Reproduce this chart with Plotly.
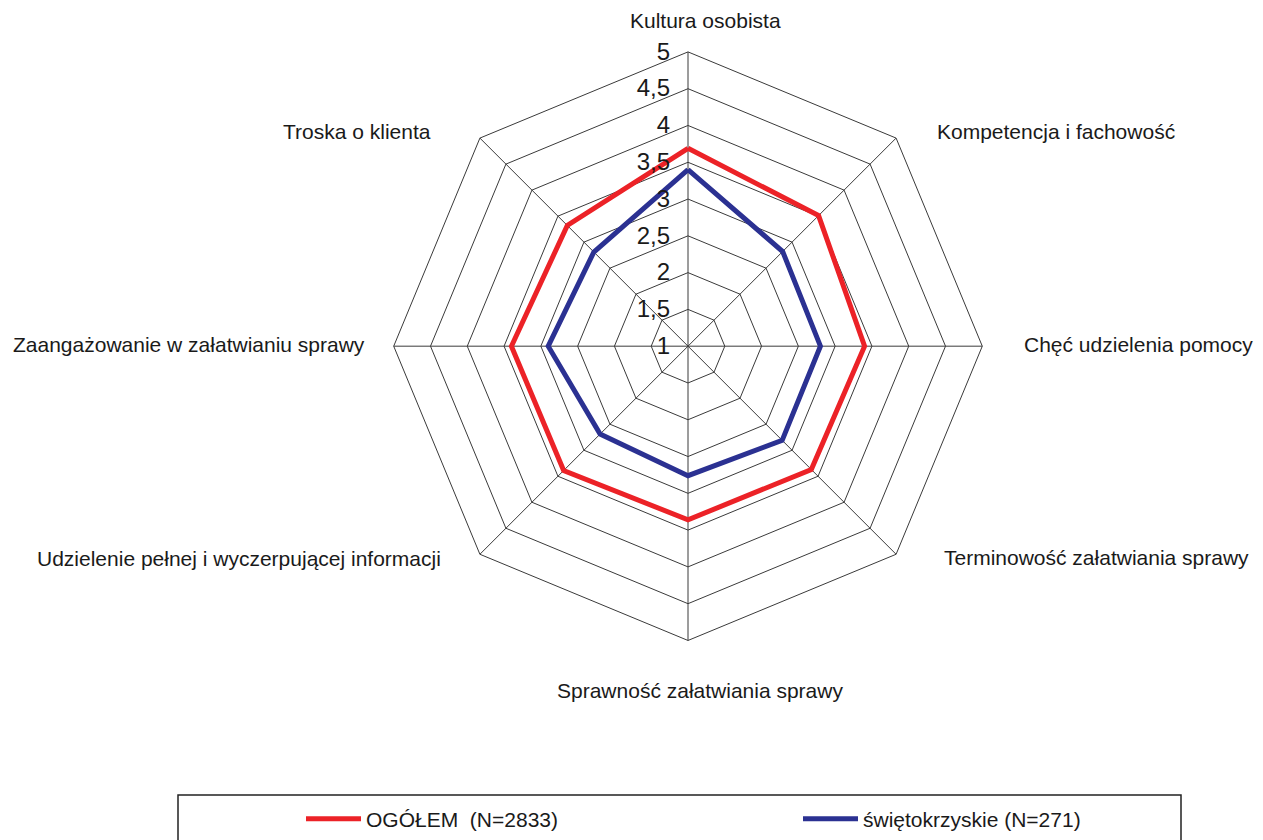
import math
import plotly.graph_objects as go

categories = [
    "Kultura osobista",
    "Kompetencja i fachowość",
    "Chęć udzielenia pomocy",
    "Terminowość załatwiania sprawy",
    "Sprawność załatwiania sprawy",
    "Udzielenie pełnej i wyczerpującej informacji",
    "Zaangażowanie w załatwianiu sprawy",
    "Troska o klienta",
]
ogolem = [3.69, 3.51, 3.40, 3.37, 3.36, 3.39, 3.40, 3.32]
swietokrzyskie = [3.40, 2.82, 2.80, 2.81, 2.76, 2.69, 2.90, 2.81]
series_names = ["OGÓŁEM  (N=2833)", "świętokrzyskie (N=271)"]
series_colors = ["#EC2227", "#2B3192"]
tick_vals = [1, 1.5, 2, 2.5, 3, 3.5, 4, 4.5, 5]
tick_text = ["1", "1,5", "2", "2,5", "3", "3,5", "4", "4,5", "5"]

# the page body adds an 8px margin; the figure is sized to fill the rest
OFF = 8
W, H = 1263 - 2 * OFF, 840 - OFF
cx, cy, R = 688 - OFF, 347 - OFF, 295
font_family = "Liberation Sans, Arial, sans-serif"
txt_color = "#1a1a1a"
grid_color = "#3a3a3a"

# label placement relative to each octagon vertex (pixel offsets, anchor)
label_style = [
    (17, -31, "center"),
    (38, -7, "left"),
    (39, -2, "left"),
    (45, 3, "left"),
    (12, 50, "center"),
    (-36, 4, "right"),
    (-26, -2, "right"),
    (-46, -7, "right"),
]

fig = go.Figure()
legend_ids = ["legend", "legend2"]
for name, vals, col, lg in zip(series_names, [ogolem, swietokrzyskie], series_colors, legend_ids):
    fig.add_trace(go.Scatterpolar(
        r=vals + vals[:1],
        theta=categories + categories[:1],
        mode="lines",
        name=name,
        line=dict(color=col, width=5),
        hoverinfo="skip",
        legend=lg,
    ))

annotations = []
n = len(categories)
for i, (cat, (dx, dy, anchor)) in enumerate(zip(categories, label_style)):
    ang = math.radians(90 - 360 * i / n)
    vx = cx + R * math.cos(ang)
    vy = cy - R * math.sin(ang)
    annotations.append(dict(
        x=(vx + dx) / W, y=1 - (vy + dy) / H,
        xref="paper", yref="paper",
        text=cat, showarrow=False,
        xanchor=anchor, yanchor="middle",
        font=dict(size=21, family=font_family, color=txt_color),
    ))

legend_common = dict(
    orientation="h",
    yanchor="middle",
    y=1 - (821 - OFF) / H,
    bgcolor="rgba(0,0,0,0)",
    itemwidth=55,
    font=dict(size=21, family=font_family, color=txt_color),
)

fig.update_layout(
    width=W, height=H,
    margin=dict(l=0, r=0, t=0, b=0),
    paper_bgcolor="white",
    plot_bgcolor="white",
    font=dict(family=font_family, color=txt_color, size=18),
    polar=dict(
        domain=dict(x=[(cx - R) / W, (cx + R) / W], y=[1 - (cy + R) / H, 1 - (cy - R) / H]),
        gridshape="linear",
        bgcolor="white",
        radialaxis=dict(
            range=[1, 5],
            tickvals=tick_vals,
            ticktext=tick_text,
            angle=90,
            tickangle=90,
            side="counterclockwise",
            showline=False,
            showgrid=True,
            gridcolor=grid_color,
            gridwidth=1,
            ticks="outside",
            ticklen=9,
            tickcolor="rgba(0,0,0,0)",
            tickfont=dict(size=24, family=font_family, color=txt_color),
        ),
        angularaxis=dict(
            direction="clockwise",
            rotation=90,
            showline=True,
            linecolor=grid_color,
            linewidth=1,
            gridcolor=grid_color,
            gridwidth=1,
            ticks="",
            showticklabels=False,
        ),
    ),
    showlegend=True,
    legend=dict(x=(301 - OFF) / W, xanchor="left", **legend_common),
    legend2=dict(x=(798 - OFF) / W, xanchor="left", **legend_common),
    annotations=annotations,
    shapes=[dict(
        type="rect", xref="paper", yref="paper",
        x0=(178 - OFF) / W, x1=(1181 - OFF) / W, y0=-0.2, y1=1 - (797 - OFF) / H,
        line=dict(color="#222222", width=1.5), fillcolor="rgba(0,0,0,0)",
    )],
)

fig.write_html("out.html")
